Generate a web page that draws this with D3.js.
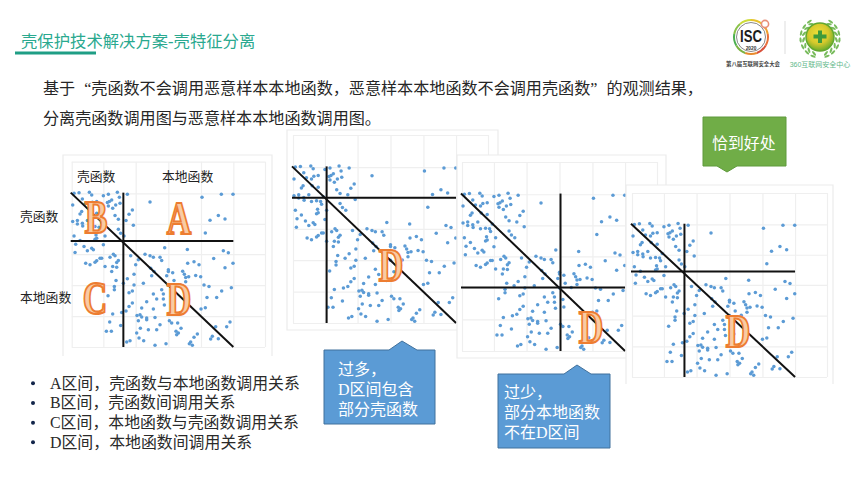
<!DOCTYPE html>
<html><head><meta charset="utf-8">
<script src="https://cdn.jsdelivr.net/npm/d3@7/dist/d3.min.js"></script>
<style>html,body{margin:0;padding:0;background:#fff}svg{display:block}text{font-family:"Liberation Serif","Noto Sans CJK SC",serif}</style>
</head><body><div id="c"></div>
<script>
// ---- data (the same scatter appears in all four panels) ----
const callX = [222,237,268,275,310,325,352,382,358,247,218,277,335,328,322,270,255,290,360,347,338,325,397,387,245,240,272,290,345,355,378,218,232,232,247,262,248,305,400,270,285,297,355,315,362,222,288,285,372,240,290,300,
227,252,275,280,225,262,310,300,305,290,285,270,257,330,340,345,355,350,338,350,315,335,392,415,407,435,450,460,480,485,494,562,670,685,641,699,675,563,582,597,452,462,455,505,505,518,500,548,553,557,566,587,602,522,557,612,627,694,665,650,621,603,616,540,505,485,490,490,515,460,430,402,382,348,402,343,343,370,397,387,324,387,397,425,440,470,460,493,518,533,508,515,338,365,378,362,329,319,334,411,420,425,440,440,465,415,480,421,410,445,470,528,543,535,530,592,582,637,632,655,680,690,647,417,390,380,431,465,498,572,568,577,
606,664,699,450,655,630,675,616];
const callY = [130,128,127,135,137,133,127,133,142,147,165,157,150,155,158,165,162,155,160,165,175,168,180,193,185,192,185,190,197,208,212,215,212,222,220,212,228,218,226,232,230,232,238,258,250,258,255,268,258,272,265,240,
283,290,295,300,308,303,285,325,325,333,337,345,340,322,313,318,332,338,350,352,350,365,318,330,345,313,318,322,322,332,294,299,303,309,326,340,354,340,336,345,355,365,378,360,365,369,378,364,373,383,381,377,381,392,396,406,410,414,424,443,443,478,474,405,406,420,433,448,440,433,400,373,387,392,406,410,420,400,424,429,438,470,460,475,456,448,478,466,462,520,513,520,493,488,484,527,517,545,545,497,495,502,505,510,503,513,525,536,550,540,540,545,536,550,555,553,563,560,568,567,531,517,531,565,573,577,573,587,582,577,582,587,
142,133,133,156,197,211,207,249];
const gridX = [215,310,407,505,603,700,795];
const gridY = [35,130,222,313,406,499,592];
const xDomain = [215,795], yDomain = [35,592];
const splitX = [370,315,508,371];       // vertical dividing line of each panel
const splitY = [273,221,405,273];       // horizontal dividing line of each panel
const diagFrom = [212,128], diagTo = [700,592];

const titleText = "壳保护技术解决方案-壳特征分离";
const bodyLines = ["基于“壳函数不会调用恶意样本本地函数，恶意样本本地函数不会调用壳函数”的观测结果，","分离壳函数调用图与恶意样本本地函数调用图。"];
const bulletLines = ["A区间，壳函数与本地函数调用关系","B区间，壳函数间调用关系","C区间，本地函数与壳函数调用关系","D区间，本地函数间调用关系"];
const tooMany = ["过多，","D区间包含","部分壳函数"];
const tooFew = ["过少，","部分本地函数","不在D区间"];
const justRight = "恰到好处";

// ---- layout ----
const frames = [
 {l:63,t:155,r:272,b:356,open:true, gl:71.7,gr:265,gt:161.7,gb:347},
 {l:287,t:130,r:498,b:330,open:false,gl:293,gr:488,gt:135,gb:323},
 {l:457,t:155,r:666,b:358,open:false,gl:462,gr:657,gt:162,gb:351},
 {l:626,t:185,r:833,b:384,open:true, gl:632,gr:827,gt:193,gb:377}
];
const letters = [
 [["B",96,218],["A",179,219],["C",95,299],["D",179,300]],
 [["D",391,266]],
 [["D",591,328]],
 [["D",738,332]]
];

const svg = d3.select("#c").append("svg").attr("width",864).attr("height",487);
const defs = svg.append("defs");
defs.append("filter").attr("id","soft").append("feGaussianBlur").attr("stdDeviation",0.35);
const grad = defs.append("radialGradient").attr("id","ball").attr("cx","45%").attr("cy","38%").attr("r","65%");
grad.append("stop").attr("offset","0%").attr("stop-color","#efe03a");
grad.append("stop").attr("offset","55%").attr("stop-color","#d6c92c");
grad.append("stop").attr("offset","100%").attr("stop-color","#5ea82c");

// title
svg.append("text").attr("x",21).attr("y",47).attr("font-size",16.35).attr("fill","#2aa98f").text(titleText);
svg.append("rect").attr("x",15).attr("y",51.5).attr("width",81).attr("height",3).attr("fill","#1f9e85");

// body: curly quotes get a full-width cell, as in the reference
bodyLines.forEach((line,i)=>{
  const t = svg.append("text").attr("x",43).attr("y",94+i*30).attr("font-size",16.1).attr("fill","#262626");
  let pending = 0;
  line.split(/(“|”)/).forEach(seg=>{
    if(!seg) return;
    const dx = (seg==="“" ? 9 : 0) + pending;
    pending = seg==="”" ? 9 : 0;
    t.append("tspan").attr("dx",dx).text(seg);
  });
});

// panels
frames.forEach((f,i)=>{
  const g = svg.append("g");
  const x = d3.scaleLinear().domain(xDomain).range([f.gl,f.gr]);
  const y = d3.scaleLinear().domain(yDomain).range([f.gt,f.gb]);
  g.append("rect").attr("x",f.l).attr("y",f.t).attr("width",f.r-f.l).attr("height",f.b-f.t).attr("fill","#fff");
  const fr = f.open ? `M${f.l},${f.b}V${f.t}H${f.r}V${f.b}` : `M${f.l},${f.b}V${f.t}H${f.r}V${f.b}Z`;
  g.append("path").attr("d",fr).attr("fill","none").attr("stroke","#ececec").attr("stroke-width",1.2);

  const ax = g.append("g").attr("transform",`translate(0,${f.gb})`)
    .call(d3.axisBottom(x).tickValues(gridX).tickSize(-(f.gb-f.gt)).tickFormat(""));
  const ay = g.append("g").attr("transform",`translate(${f.gl},0)`)
    .call(d3.axisLeft(y).tickValues(gridY).tickSize(-(f.gr-f.gl)).tickFormat(""));
  [ax,ay].forEach(a=>{a.select(".domain").remove();a.selectAll("line").attr("stroke","#efefef").attr("stroke-width",1.2);});

  g.append("g").attr("filter","url(#soft)").selectAll("circle").data(callX).join("circle")
    .attr("cx",d=>x(d)).attr("cy",(d,j)=>y(callY[j])).attr("r",1.75).attr("fill","#5B9BD5");

  const lg = g.append("g").attr("stroke","#111").attr("stroke-width",2).attr("stroke-linecap","butt");
  lg.append("line").attr("x1",x(xDomain[0])-1).attr("x2",x(diagTo[0])).attr("y1",y(splitY[i])).attr("y2",y(splitY[i]));
  lg.append("line").attr("x1",x(splitX[i])).attr("x2",x(splitX[i])).attr("y1",y(diagFrom[1])).attr("y2",y(diagTo[1]));
  lg.append("line").attr("x1",x(diagFrom[0])).attr("y1",y(diagFrom[1])).attr("x2",x(diagTo[0])).attr("y2",y(diagTo[1]));

  letters[i].forEach(([t,lx,ly])=>{
    g.append("text").attr("transform",`translate(${lx},${ly}) scale(0.74,1)`).attr("text-anchor","middle").attr("dy","0.33em")
      .attr("font-weight","bold").attr("font-size",46)
      .attr("fill","#f9cba3").attr("stroke","#ED7D31").attr("stroke-width",2.2).text(t);
  });
});

// labels on first panel
[["壳函数",77,181],["本地函数",162,181],["壳函数",20,221],["本地函数",20,302]].forEach(([t,lx,ly])=>{
  svg.append("text").attr("x",lx).attr("y",ly).attr("font-size",12.8).attr("fill","#222").text(t);
});

// bullets
const bulletY = d3.scaleLinear().domain([0,3]).range([383.3,442.3]);
bulletLines.forEach((t,i)=>{
  svg.append("circle").attr("cx",33).attr("cy",bulletY(i)).attr("r",2).attr("fill","#12254a");
  svg.append("text").attr("x",50).attr("y",bulletY(i)+5.5).attr("font-size",15.9).attr("fill","#2a2a2a").text(t);
});

// callouts
function callout(pts,fill,stroke,lines,tx,tys,size){
  svg.append("path").attr("d",d3.line()(pts)+"Z").attr("fill",fill).attr("stroke",stroke).attr("stroke-width",1);
  lines.forEach((t,i)=>svg.append("text").attr("x",tx).attr("y",tys[i]).attr("font-size",size).attr("fill","#fff").text(t));
}
callout([[324,350],[389,350],[402,341],[417,350],[435,350],[435,424],[324,424]],"#5B9BD5","#41719C",tooMany,338,[374.5,394.5,414.5],16);
callout([[498,374],[564,374],[577,365],[591,374],[610,374],[610,448],[498,448]],"#5B9BD5","#41719C",tooFew,504,[397.5,417.5,437.5],16);
callout([[703,117],[786,117],[786,166],[737,166],[727,172],[717,166],[703,166]],"#70AD47","#5f9a3c",[justRight],712,[148.5],15.9);

// logos
const isc = svg.append("g").attr("transform","translate(751,37)");
const arc = d3.arc().innerRadius(16).outerRadius(18);
const ringColors = ["#e8c22c","#f0a030","#e8703a","#d8503a","#e88a2c","#7cb342","#4caf50","#8bc34a","#cddc39"];
ringColors.forEach((c,i)=>{
  const s=(i/9)*2*Math.PI, e=((i+1)/9)*2*Math.PI;
  isc.append("path").attr("d",arc({startAngle:s,endAngle:e})).attr("fill",c);
});
isc.append("circle").attr("r",14.5).attr("fill","none").attr("stroke","#555").attr("stroke-width",0.7);
isc.append("circle").attr("cx",14).attr("cy",-13).attr("r",3.6).attr("fill","#fff").attr("stroke","#e8907a").attr("stroke-width",1.6);
isc.append("text").attr("transform","translate(0,5) scale(0.82,1)").attr("text-anchor","middle").attr("font-size",16).attr("font-weight","bold").style("font-family","'Liberation Sans',sans-serif").attr("fill","#1c1c1c").text("ISC");
isc.append("text").attr("y",13).attr("text-anchor","middle").attr("font-size",4.8).attr("font-weight","bold").style("font-family","'Liberation Sans',sans-serif").attr("fill","#333").text("2020");
svg.append("text").attr("x",753).attr("y",65.5).attr("text-anchor","middle").attr("font-size",5.4).attr("font-weight","bold").attr("fill","#444").text("第八届互联网安全大会");
svg.append("line").attr("x1",785).attr("x2",785).attr("y1",21).attr("y2",54).attr("stroke","#ddd");

const q = svg.append("g").attr("transform","translate(820,37)");
[16.5,19.5].forEach(R=>{
  d3.range(-7,8).forEach(k=>{ if(k===0) return;
    const deg=k*21, a=deg*Math.PI/180, cx=R*Math.sin(a), cy=R*Math.cos(a)+1;
    q.append("ellipse").attr("cx",cx).attr("cy",cy).attr("rx",2.8).attr("ry",1.1)
     .attr("transform",`rotate(${-deg+(k>0?-28:28)+(R>17?(k>0?28:-28):0)},${cx},${cy})`).attr("fill","#78bb5c");
  });
});
q.append("circle").attr("r",14).attr("fill","url(#ball)").attr("stroke","#62a82f").attr("stroke-width",1.5);
q.append("path").attr("d","M-2,-10.5H2V-6.5H6.5V-2.5H2V2H-2V-2.5H-6.5V-6.5H-2Z").attr("transform","translate(0,4)").attr("fill","#3f9a3b");
svg.append("text").attr("x",820).attr("y",66.5).attr("text-anchor","middle").style("font-family","'Liberation Sans','Noto Sans CJK SC',sans-serif").attr("font-size",7).attr("fill","#62b88a").text("360互联网安全中心");
</script></body></html>
